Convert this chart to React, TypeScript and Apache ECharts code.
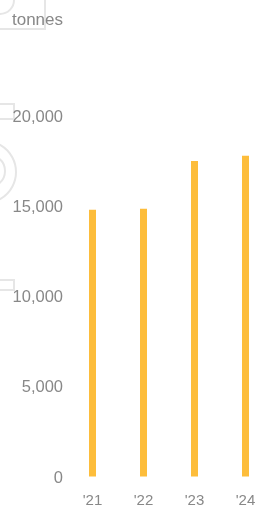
import React, { useEffect, useRef } from "react";
import * as echarts from "echarts";

const categories = ["'21", "'22", "'23", "'24"];
const values = [14800, 14850, 17500, 17800];
const yTicks = [0, 5000, 10000, 15000, 20000];
const unitLabel = "tonnes";

export default function App() {
  const ref = useRef<HTMLDivElement>(null);
  useEffect(() => {
    if (!ref.current) return;
    const chart = echarts.init(ref.current, null, { renderer: "svg" });
    const wm = "#e6e6e6";
    chart.setOption({
      animation: false,
      grid: { left: 67, right: -13, top: 116, bottom: 30.5, containLabel: false, outerBoundsMode: "none" },
      graphic: [
        { type: "rect", shape: { x: -20, y: -10, width: 65, height: 39 }, style: { fill: "none", stroke: wm, lineWidth: 2 }, z: -1 },
        { type: "arc", shape: { cx: 0, cy: 0, r: 14, startAngle: 0, endAngle: Math.PI / 2 }, style: { fill: "none", stroke: wm, lineWidth: 2 }, z: -1 },
        { type: "rect", shape: { x: -20, y: 104, width: 34, height: 15 }, style: { fill: "none", stroke: wm, lineWidth: 2 }, z: -1 },
        { type: "circle", shape: { cx: -15, cy: 172, r: 31 }, style: { fill: "none", stroke: wm, lineWidth: 2 }, z: -1 },
        { type: "circle", shape: { cx: -11, cy: 171, r: 16 }, style: { fill: "none", stroke: wm, lineWidth: 2 }, z: -1 },
        { type: "rect", shape: { x: -20, y: 280, width: 34, height: 10 }, style: { fill: "none", stroke: wm, lineWidth: 2 }, z: -1 },
        {
          type: "text",
          x: 63,
          y: 19,
          style: { text: unitLabel, font: "17px Liberation Sans", fill: "#888", align: "right", verticalAlign: "middle" },
        },
      ],
      xAxis: {
        type: "category",
        data: categories,
        axisLine: { show: false },
        axisTick: { show: false },
        axisLabel: { color: "#888", fontSize: 15, fontFamily: "Liberation Sans", margin: 15 },
      },
      yAxis: {
        type: "value",
        min: yTicks[0],
        max: yTicks[yTicks.length - 1],
        interval: yTicks[1] - yTicks[0],
        splitLine: { show: false },
        axisLine: { show: false },
        axisTick: { show: false },
        axisLabel: {
          color: "#888",
          fontSize: 16.5,
          fontFamily: "Liberation Sans",
          margin: 4,
          formatter: (v: number) => v.toLocaleString("en-US"),
        },
      },
      series: [
        {
          type: "bar",
          data: values,
          barWidth: 7,
          itemStyle: { color: "#FDBD3B" },
        },
      ],
    });
    return () => chart.dispose();
  }, []);
  return <div ref={ref} style={{ position: "fixed", left: 0, top: 0, width: 258, height: 507 }} />;
}
